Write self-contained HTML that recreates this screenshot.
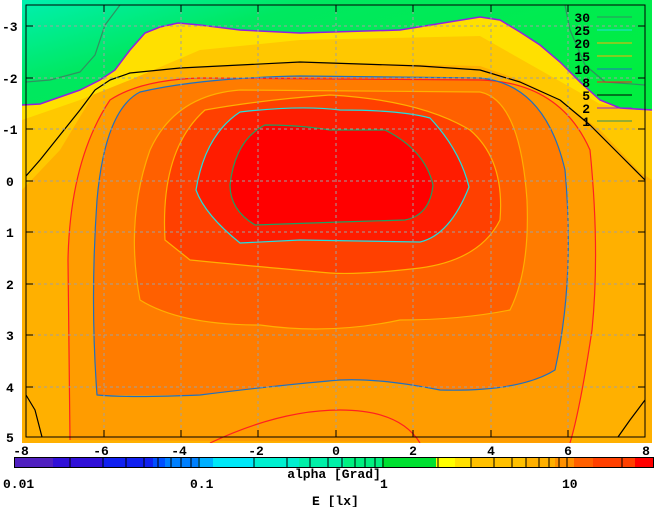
<!DOCTYPE html>
<html><head><meta charset="utf-8"><style>
html,body{margin:0;padding:0;background:#fff;width:655px;height:507px;overflow:hidden}
svg{display:block}
text{font-family:"Liberation Mono",monospace;font-size:13px;font-weight:bold;fill:#000}
</style></head><body>
<svg width="655" height="507" viewBox="0 0 655 507">
<defs>
<linearGradient id="gt" x1="0" y1="0" x2="1" y2="0.6">
<stop offset="0" stop-color="#00f0b0"/><stop offset="0.35" stop-color="#00e860"/><stop offset="1" stop-color="#00ee40"/>
</linearGradient>
<clipPath id="cp"><rect x="22" y="0" width="630" height="443"/></clipPath>
</defs>
<g clip-path="url(#cp)">
<rect x="22" y="0" width="630" height="443" fill="#ffb000"/>
<polygon fill="#ffc800" points="22,190 60,150 95,92 130,74 180,68 300,62 480,66 520,80 560,100 600,130 640,172 652,180 652,0 22,0"/>
<polygon fill="#ffe000" points="22,120 80,100 130,80 200,50 300,40 480,36 540,70 600,104 652,112 652,0 22,0"/>
<polygon fill="url(#gt)" points="22,105 40,104 60,97 80,90 100,80 115,70 130,50 145,33 160,27 178,23 200,25 240,30 300,33 400,30 480,17 500,20 520,32 540,45 560,62 580,82 600,100 620,108 652,110 652,0 22,0"/>
<polyline fill="none" stroke="#9020e0" stroke-width="1.5" points="22,105 40,104 60,97 80,90 100,80 115,70 130,50 145,33 160,27 178,23 200,25 240,30 300,33 400,30 480,17 500,20 520,32 540,45 560,62 580,82 600,100 620,108 652,110"/>
<path fill="#ff9c00" d="M70,440 L68,260 Q70,160 110,100 Q140,80 200,78 L480,80 Q560,82 590,150 Q600,250 592,330 Q580,410 570,443 Z"/>
<path fill="#ff7c00" d="M97,395 Q90,300 97,200 Q105,110 140,92 Q200,78 300,76 L480,78 Q545,84 565,170 Q575,280 555,370 Q520,392 440,390 Q380,378 340,380 Q280,385 200,395 Z"/>
<path fill="#ff6000" d="M140,300 Q125,220 150,150 Q175,95 240,90 L480,92 Q520,100 527,200 Q530,270 510,310 Q460,320 400,320 Q330,335 260,325 Q180,325 140,300 Z"/>
<path fill="#ff4000" d="M165,240 Q160,150 205,110 Q260,100 330,95 Q420,100 470,130 Q505,160 500,220 Q480,260 420,268 Q360,275 330,273 Q240,265 190,260 Z"/>
<path fill="#ff1c00" d="M196,190 Q205,135 240,112 Q300,105 340,110 Q400,110 430,118 Q460,150 469,187 Q450,235 420,242 L300,240 L240,243 Q205,215 196,190 Z"/>
<path fill="#ff0000" d="M230,185 Q235,140 265,125 Q300,125 330,130 L385,130 Q425,150 433,185 Q430,215 405,220 L340,222 L255,225 Q230,210 230,185 Z"/>
<g fill="none" stroke-width="1.2" stroke-linejoin="round">
<polyline stroke="#000" points="26,176 40,160 60,135 80,110 95,90 110,80 130,73 180,68 300,62 360,64 420,66 480,70 520,82 560,100 590,125 620,155 645,180"/>
<polyline stroke="#000" points="26,395 35,410 42,437"/>
<polyline stroke="#000" points="645,400 630,420 618,437"/>
<path stroke="#ff2020" d="M70,440 L68,260 Q70,160 110,100 Q140,80 200,78 L480,80 Q560,82 590,150 Q600,250 592,330 Q580,410 570,443"/>
<path stroke="#ff2020" d="M210,443 Q280,410 340,410 Q400,410 420,443"/>
<path stroke="#2070c0" d="M97,395 Q90,300 97,200 Q105,110 140,92 Q200,78 300,76 L480,78 Q545,84 565,170 Q575,280 555,370 Q520,392 440,390 Q380,378 340,380 Q280,385 200,395 Q130,398 97,395 Z"/>
<path stroke="#ffb000" d="M140,300 Q125,220 150,150 Q175,95 240,90 L480,92 Q520,100 527,200 Q530,270 510,310 Q460,320 400,320 Q330,335 260,325 Q180,325 140,300 Z"/>
<path stroke="#ffb000" d="M165,240 Q160,150 205,110 Q260,100 330,95 Q420,100 470,130 Q505,160 500,220 Q480,260 420,268 Q360,275 330,273 Q240,265 190,260 Z"/>
<path stroke="#20e0e0" d="M196,190 Q205,135 240,112 Q300,105 340,110 Q400,110 430,118 Q460,150 469,187 Q450,235 420,242 L300,240 L240,243 Q205,215 196,190 Z"/>
<path stroke="#20a060" d="M230,185 Q235,140 265,125 Q300,125 330,130 L385,130 Q425,150 433,185 Q430,215 405,220 L340,222 L255,225 Q230,210 230,185 Z"/>
<polyline stroke="#309060" points="26,82 50,80 80,72 95,55 105,25 120,5"/>
<polyline stroke="#309060" points="565,5 570,30 585,65 605,82 645,85"/>
</g>
<g stroke="#a0a0a0" stroke-dasharray="3,3" stroke-width="1">
<line x1="104" y1="5" x2="104" y2="437"/><line x1="181" y1="5" x2="181" y2="437"/><line x1="258" y1="5" x2="258" y2="437"/><line x1="336" y1="5" x2="336" y2="437"/><line x1="413" y1="5" x2="413" y2="437"/><line x1="491" y1="5" x2="491" y2="437"/><line x1="568" y1="5" x2="568" y2="437"/>
<line x1="26" y1="26" x2="645" y2="26"/><line x1="26" y1="78" x2="645" y2="78"/><line x1="26" y1="129" x2="645" y2="129"/><line x1="26" y1="181" x2="645" y2="181"/><line x1="26" y1="232" x2="645" y2="232"/><line x1="26" y1="284" x2="645" y2="284"/><line x1="26" y1="335" x2="645" y2="335"/><line x1="26" y1="387" x2="645" y2="387"/>
</g>
<rect x="26" y="5" width="619" height="432" fill="none" stroke="#000" stroke-width="1"/>
<g stroke="#000" stroke-width="1">
<line x1="104" y1="5" x2="104" y2="12"/><line x1="181" y1="5" x2="181" y2="12"/><line x1="258" y1="5" x2="258" y2="12"/><line x1="336" y1="5" x2="336" y2="12"/><line x1="413" y1="5" x2="413" y2="12"/><line x1="491" y1="5" x2="491" y2="12"/><line x1="568" y1="5" x2="568" y2="12"/>
<line x1="104" y1="437" x2="104" y2="430"/><line x1="181" y1="437" x2="181" y2="430"/><line x1="258" y1="437" x2="258" y2="430"/><line x1="336" y1="437" x2="336" y2="430"/><line x1="413" y1="437" x2="413" y2="430"/><line x1="491" y1="437" x2="491" y2="430"/><line x1="568" y1="437" x2="568" y2="430"/>
<line x1="26" y1="26" x2="33" y2="26"/><line x1="26" y1="78" x2="33" y2="78"/><line x1="26" y1="129" x2="33" y2="129"/><line x1="26" y1="181" x2="33" y2="181"/><line x1="26" y1="232" x2="33" y2="232"/><line x1="26" y1="284" x2="33" y2="284"/><line x1="26" y1="335" x2="33" y2="335"/><line x1="26" y1="387" x2="33" y2="387"/>
<line x1="645" y1="26" x2="638" y2="26"/><line x1="645" y1="78" x2="638" y2="78"/><line x1="645" y1="129" x2="638" y2="129"/><line x1="645" y1="181" x2="638" y2="181"/><line x1="645" y1="232" x2="638" y2="232"/><line x1="645" y1="284" x2="638" y2="284"/><line x1="645" y1="335" x2="638" y2="335"/><line x1="645" y1="387" x2="638" y2="387"/>
</g>
<g font-size="12">
<text x="590" y="22" text-anchor="end">30</text><text x="590" y="35" text-anchor="end">25</text><text x="590" y="48" text-anchor="end">20</text><text x="590" y="61" text-anchor="end">15</text><text x="590" y="74" text-anchor="end">10</text><text x="590" y="87" text-anchor="end">8</text><text x="590" y="100" text-anchor="end">5</text><text x="590" y="113" text-anchor="end">2</text><text x="590" y="126" text-anchor="end">1</text>
</g>
<g stroke-width="1">
<line x1="597" y1="17" x2="632" y2="17" stroke="#309060"/>
<line x1="597" y1="30" x2="632" y2="30" stroke="#20e0e0"/>
<line x1="597" y1="43" x2="632" y2="43" stroke="#ffb000"/>
<line x1="597" y1="56" x2="632" y2="56" stroke="#ffb000"/>
<line x1="597" y1="69" x2="632" y2="69" stroke="#2070c0"/>
<line x1="597" y1="82" x2="632" y2="82" stroke="#ff2020"/>
<line x1="597" y1="95" x2="632" y2="95" stroke="#000"/>
<line x1="597" y1="108" x2="632" y2="108" stroke="#9020e0"/>
<line x1="597" y1="121" x2="632" y2="121" stroke="#309060"/>
</g>
</g>
<text x="2" y="31">-3</text><text x="2" y="83">-2</text><text x="2" y="134">-1</text><text x="6" y="186">0</text><text x="6" y="237">1</text><text x="6" y="289">2</text><text x="6" y="340">3</text><text x="6" y="392">4</text><text x="6" y="442">5</text>
<!-- colorbar -->
<g>
<rect x="15" y="457" width="38" height="10" fill="#5020c0"/>
<rect x="53" y="457" width="49" height="10" fill="#3010d8"/>
<rect x="102" y="457" width="51" height="10" fill="#1020f0"/>
<rect x="153" y="457" width="12" height="10" fill="#0050ff"/>
<rect x="165" y="457" width="33" height="10" fill="#0080ff"/>
<rect x="198" y="457" width="15" height="10" fill="#00b0ff"/>
<rect x="213" y="457" width="41" height="10" fill="#00e8f8"/>
<rect x="254" y="457" width="45" height="10" fill="#00f0d0"/>
<rect x="299" y="457" width="45" height="10" fill="#00f0a8"/>
<rect x="344" y="457" width="38" height="10" fill="#00f080"/>
<rect x="382" y="457" width="54" height="10" fill="#00e030"/>
<rect x="436" y="457" width="19" height="10" fill="#ffff00"/>
<rect x="455" y="457" width="16" height="10" fill="#ffe000"/>
<rect x="471" y="457" width="55" height="10" fill="#ffc000"/>
<rect x="526" y="457" width="29" height="10" fill="#ffb000"/>
<rect x="555" y="457" width="19" height="10" fill="#ff9000"/>
<rect x="574" y="457" width="19" height="10" fill="#ff6000"/>
<rect x="593" y="457" width="42" height="10" fill="#ff4000"/>
<rect x="635" y="457" width="18" height="10" fill="#ff0000"/>
<rect x="14.5" y="457.5" width="639" height="10" fill="none" stroke="#000"/>
<g stroke="#000" stroke-width="1">
<line x1="70" y1="457" x2="70" y2="467"/><line x1="103" y1="457" x2="103" y2="467"/><line x1="126" y1="457" x2="126" y2="467"/><line x1="144" y1="457" x2="144" y2="467"/><line x1="158" y1="457" x2="158" y2="467"/><line x1="171" y1="457" x2="171" y2="467"/><line x1="181" y1="457" x2="181" y2="467"/><line x1="191" y1="457" x2="191" y2="467"/><line x1="199" y1="457" x2="199" y2="467"/>
<line x1="254" y1="457" x2="254" y2="467"/><line x1="287" y1="457" x2="287" y2="467"/><line x1="310" y1="457" x2="310" y2="467"/><line x1="328" y1="457" x2="328" y2="467"/><line x1="342" y1="457" x2="342" y2="467"/><line x1="355" y1="457" x2="355" y2="467"/><line x1="365" y1="457" x2="365" y2="467"/><line x1="375" y1="457" x2="375" y2="467"/><line x1="383" y1="457" x2="383" y2="467"/>
<line x1="438" y1="457" x2="438" y2="467"/><line x1="471" y1="457" x2="471" y2="467"/><line x1="494" y1="457" x2="494" y2="467"/><line x1="512" y1="457" x2="512" y2="467"/><line x1="526" y1="457" x2="526" y2="467"/><line x1="539" y1="457" x2="539" y2="467"/><line x1="549" y1="457" x2="549" y2="467"/><line x1="559" y1="457" x2="559" y2="467"/><line x1="567" y1="457" x2="567" y2="467"/>
<line x1="622" y1="457" x2="622" y2="467"/>
</g>
</g>
<text x="21" y="455" text-anchor="middle">-8</text><text x="101" y="455" text-anchor="middle">-6</text><text x="179" y="455" text-anchor="middle">-4</text><text x="256" y="455" text-anchor="middle">-2</text><text x="336" y="455" text-anchor="middle">0</text><text x="413" y="455" text-anchor="middle">2</text><text x="491" y="455" text-anchor="middle">4</text><text x="568" y="455" text-anchor="middle">6</text><text x="646" y="455" text-anchor="middle">8</text>
<text x="3" y="488">0.01</text><text x="190" y="488">0.1</text><text x="380" y="488">1</text><text x="562" y="488">10</text>
<text x="334" y="478" text-anchor="middle">alpha [Grad]</text>
<text x="312" y="505">E [lx]</text>
</svg>
</body></html>
